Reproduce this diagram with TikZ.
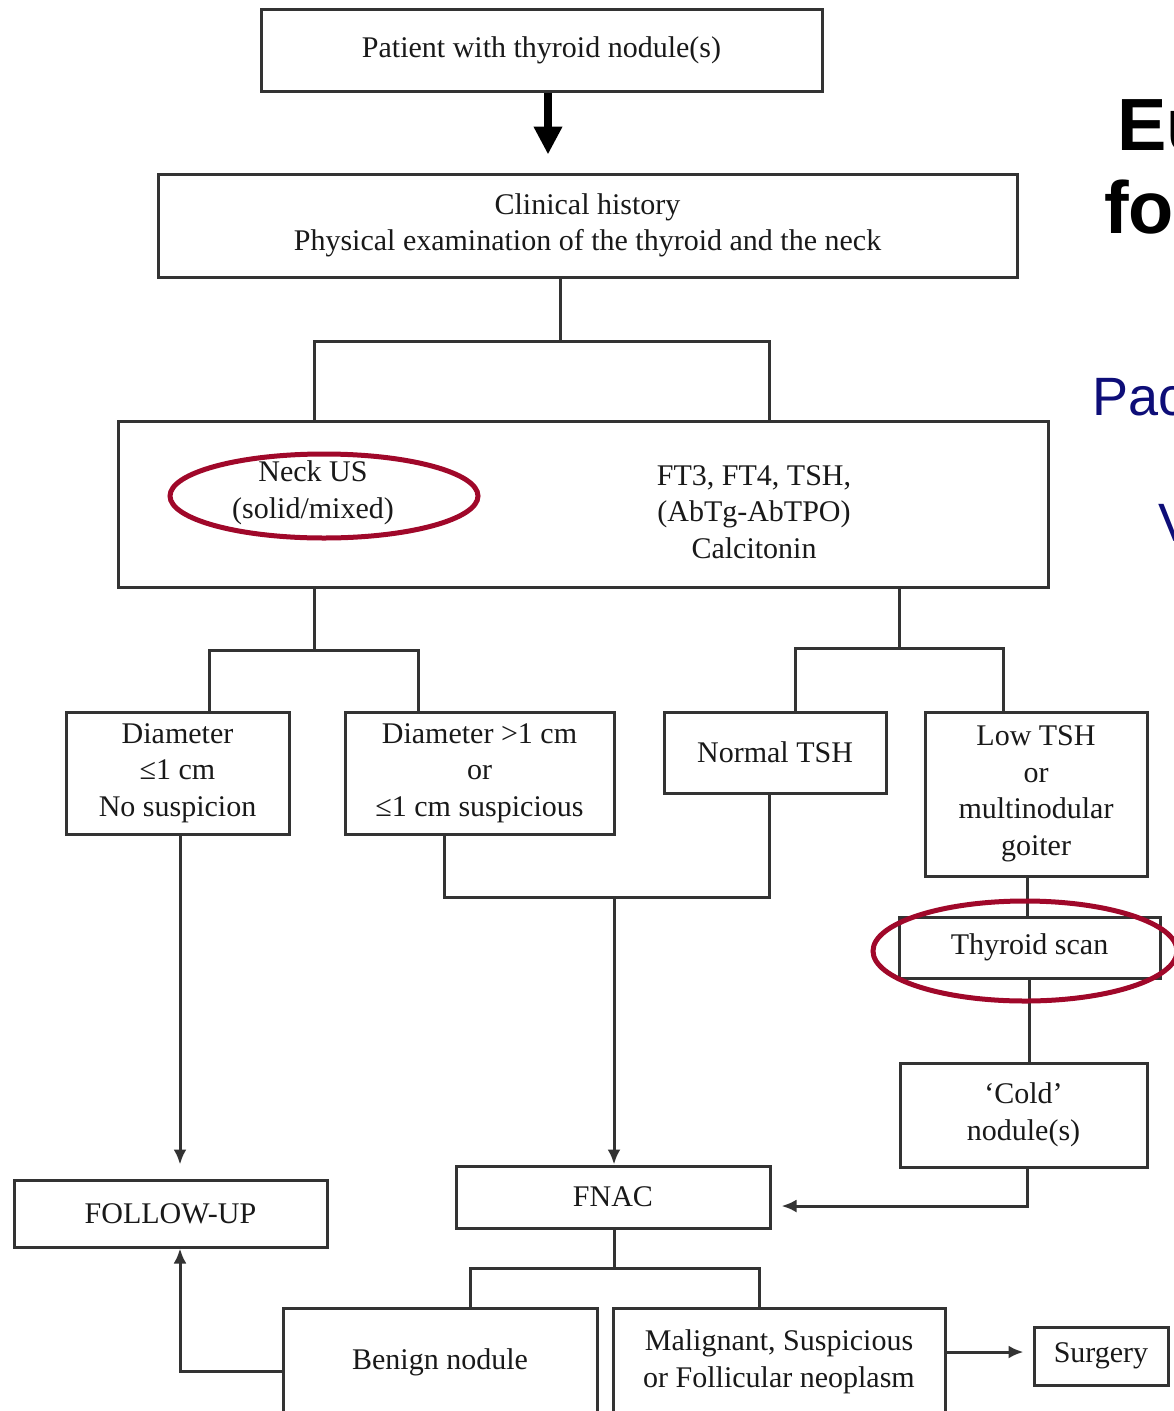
\documentclass[tikz,border=0pt]{standalone}
\usepackage{fontspec}
\setmainfont{Liberation Serif}
\newfontfamily\headfont{Liberation Sans}
\usetikzlibrary{arrows.meta,positioning,calc,shapes.geometric}
\definecolor{Ink}{HTML}{333333}
\definecolor{Crimson}{HTML}{A0082A}
\definecolor{Navy}{HTML}{0E0E78}
\newcommand{\boxfont}{\fontsize{30}{36.5}\selectfont}

\begin{document}
\begin{tikzpicture}[
  x=1pt,y=-1pt,>={Latex[length=15pt,width=13pt]},
  box/.style={draw=Ink,fill=white,line width=3pt,align=center,
    inner sep=0pt,font=\boxfont,text=black!90},
  txt/.style={align=center,inner sep=0pt,font=\boxfont,text=black!90},
  link/.style={draw=Ink,line width=3pt},
  arr/.style={->,draw=Ink,line width=3pt},
  bigarr/.style={-{Triangle[length=28pt,width=27pt]},draw=black,line width=8pt},
  ring/.style={ellipse,draw=Crimson,line width=5pt,inner sep=0pt},
  head/.style={font=\headfont\bfseries\fontsize{74}{78}\selectfont,
    anchor=base west,inner sep=0pt},
  sub/.style={font=\headfont\fontsize{54}{58}\selectfont,text=Navy,
    anchor=base west,inner sep=0pt}
]
\path[use as bounding box,fill=white] (0,0) rectangle (1173,1411);

% title lines, cut off by the right edge
\node[head] (titleA) at (1117,150) {Eu};
\node[head] (titleB) at (1104,233) {fo};
\node[sub] (subA) at (1092,415) {Pac};
\node[sub] (subB) at (1158,541) {V};

\node[box,minimum width=561,minimum height=82] (patient) at (541.5,50)
  {Patient with thyroid nodule(s)};
\node[box,minimum width=859,minimum height=103] (clin) at (587.5,225.5)
  {Clinical history\\Physical examination of the thyroid and the neck};
\draw[bigarr,shorten >=18pt] ([xshift=6.5pt]patient.south)
  -- ([xshift=6.5pt]patient.south |- clin.north);

\node[box,minimum width=930,minimum height=166] (big) at (583,504) {};
\node[txt] (usTxt) at (313,493) {Neck US\\(solid/mixed)};
\node[txt] (labTxt) at (754,512) {FT3, FT4, TSH,\\(AbTg-AbTPO)\\Calcitonin};
\coordinate (j1) at (560,341);
\draw[link] ([xshift=-27.5pt]clin.south) -- (j1);
\draw[link] ([xshift=-269pt]big.north) |- (j1) -| ([xshift=186pt]big.north);

% second row
\node[box,minimum width=223,minimum height=122] (diamA) at (177.5,773)
  {Diameter\\≤1 cm\\No suspicion};
\node[box,minimum width=269,minimum height=122] (diamB) at (479.5,773)
  {Diameter >1 cm\\or\\≤1 cm suspicious};
\node[box,minimum width=222,minimum height=81] (normal) at (775,752.5)
  {Normal TSH};
\node[box,minimum width=222,minimum height=164] (low) at (1036,794)
  {Low TSH\\or\\multinodular\\goiter};
\coordinate (j2) at (314,650);
\coordinate (j3) at (899,648);
\draw[link] ([xshift=-269pt]big.south) -- (j2);
\draw[link] ([xshift=31.5pt]diamA.north) |- (j2) -| ([xshift=-61.5pt]diamB.north);
\draw[link] ([xshift=316pt]big.south) -- (j3);
\draw[link] ([xshift=20pt]normal.north) |- (j3) -| ([xshift=-33pt]low.north);

% scan branch
\node[box,minimum width=261,minimum height=61] (scan) at (1029.5,947.5)
  {Thyroid scan};
\node[box,minimum width=247,minimum height=104] (cold) at (1023.5,1115)
  {‘Cold’\\nodule(s)};
\draw[link] ([xshift=-9pt]low.south) -- ([xshift=-2.5pt]scan.north);
\draw[link] (scan.south) -- (scan.south |- cold.north);

% lower part
\node[box,minimum width=313,minimum height=67] (follow) at (170.5,1213.5)
  {FOLLOW-UP};
\node[box,minimum width=314,minimum height=62] (fnac) at (613,1197) {FNAC};
\node[box,minimum width=314,minimum height=108] (benign) at (440,1362)
  {Benign nodule};
\node[box,minimum width=332,minimum height=108] (malig) at (779,1362)
  {Malignant, Suspicious\\or Follicular neoplasm};
\node[box,minimum width=134,minimum height=58] (surgery) at (1101,1356)
  {Surgery};
\coordinate (j4) at (614,897);
\coordinate (j5) at (614,1268);
\draw[link] ([xshift=-35.5pt]diamB.south) |- (j4) -| ([xshift=-6pt]normal.south);
\draw[arr] (j4) -- (fnac.north -| j4);
\draw[arr,shorten >=14pt] ([xshift=2.5pt]diamA.south) -- ([xshift=9.5pt]follow.north);
\draw[arr,shorten >=10pt] ([xshift=3.5pt]cold.south) |- ([yshift=-9pt]fnac.east);
\draw[link] ([xshift=1pt]fnac.south) -- (j5);
\draw[link] ([xshift=30pt]benign.north) |- (j5) -| ([xshift=-20pt]malig.north);
\draw[arr,shorten >=9pt] ([yshift=10pt]malig.east) -- ([yshift=10pt]malig.east -| surgery.west);
\draw[arr] ([yshift=-9pt]benign.west) -| ([xshift=9.5pt]follow.south);

% red marks
\node[ring,minimum width=308,minimum height=84] (usRing) at (324,496) {};
\node[ring,minimum width=304,minimum height=100] (scanRing) at (1025,951) {};
\end{tikzpicture}
\end{document}
